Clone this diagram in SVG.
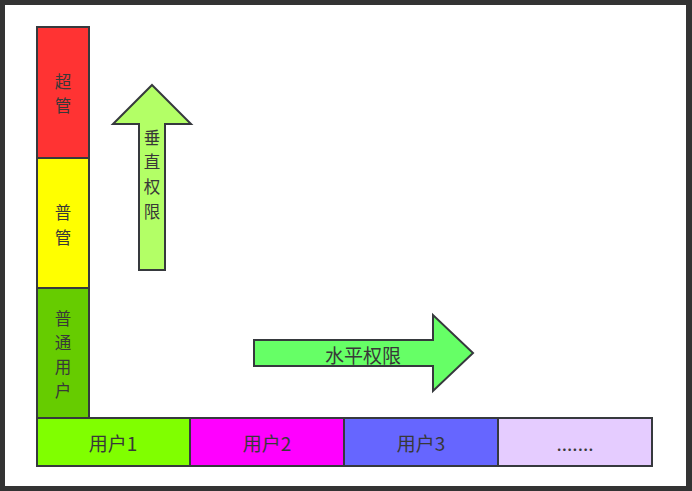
<svg xmlns="http://www.w3.org/2000/svg" width="692" height="491" viewBox="0 0 692 491">
<style>
.box{stroke:#36393d;stroke-width:2}
.t{font-family:"Noto Sans CJK SC","Noto Sans",sans-serif;font-size:19px;fill:#383838;text-anchor:middle;dominant-baseline:central}
.v{font-size:16.5px}
</style>
<rect x="0" y="0" width="692" height="491" fill="#333333"/>
<rect x="5" y="5" width="681" height="481" fill="#ffffff"/>
<g id="n-chaoguan"><rect class="box" x="37" y="27" width="52" height="131" fill="#ff3333"/>
<text class="t v"><tspan x="63" y="81">超</tspan><tspan x="63" y="105">管</tspan></text></g>
<g id="n-puguan"><rect class="box" x="37" y="158" width="52" height="130" fill="#ffff00"/>
<text class="t v"><tspan x="63" y="212">普</tspan><tspan x="63" y="237">管</tspan></text></g>
<g id="n-putong"><rect class="box" x="37" y="288" width="52" height="130" fill="#66cc00"/>
<text class="t v"><tspan x="63" y="318">普</tspan><tspan x="63" y="342">通</tspan><tspan x="63" y="366">用</tspan><tspan x="63" y="390">户</tspan></text></g>
<g id="n-user1"><rect class="box" x="37" y="418" width="153" height="48" fill="#80ff00"/>
<text class="t" x="113" y="442">用户1</text></g>
<g id="n-user2"><rect class="box" x="190" y="418" width="154" height="48" fill="#ff00ff"/>
<text class="t" x="267" y="442">用户2</text></g>
<g id="n-user3"><rect class="box" x="344" y="418" width="154" height="48" fill="#6666ff"/>
<text class="t" x="421" y="442">用户3</text></g>
<g id="n-more"><rect class="box" x="498" y="418" width="154" height="48" fill="#e5ccff"/>
<text class="t" x="575" y="442">.......</text></g>
<g id="connectors">
<g id="arrow-vertical"><polygon class="box" points="152,85 191,124 165,124 165,270 139,270 139,124 113,124" fill="#b3ff66"/>
<text class="t v"><tspan x="152" y="137">垂</tspan><tspan x="152" y="161">直</tspan><tspan x="152" y="186">权</tspan><tspan x="152" y="211">限</tspan></text></g>
<g id="arrow-horizontal"><polygon class="box" points="254,340 433,340 433,315 473,353 433,391 433,366 254,366" fill="#66ff66"/>
<text class="t" x="363" y="354">水平权限</text></g>
</g>
</svg>
